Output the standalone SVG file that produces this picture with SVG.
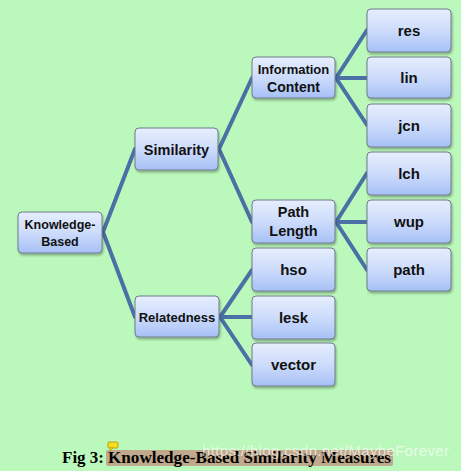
<svg xmlns="http://www.w3.org/2000/svg" width="461" height="471" viewBox="0 0 461 471">
<defs>
<linearGradient id="g" x1="0" y1="0" x2="0" y2="1">
<stop offset="0" stop-color="#e6eefd"/>
<stop offset="0.5" stop-color="#cddcfb"/>
<stop offset="1" stop-color="#a6c0f6"/>
</linearGradient>
<filter id="sh" x="-10%" y="-10%" width="130%" height="140%">
<feDropShadow dx="1" dy="2" stdDeviation="1.2" flood-color="#000" flood-opacity="0.3"/>
</filter>
</defs>
<style>
.n rect{fill:url(#g);stroke:#6f7c8c;stroke-width:1;filter:url(#sh)}
.n text{font-family:"Liberation Sans",Arial,sans-serif;font-weight:bold;fill:#111;text-anchor:middle}
.c line,.c polyline{stroke:#4a70a5;stroke-width:4;fill:none;stroke-linecap:round}
.cap{font-family:"Liberation Serif","Times New Roman",serif;font-weight:bold;font-size:16px;fill:#000}
</style>
<rect width="461" height="471" fill="#bbf8bb"/>
<g class="c">
<polyline points="135,149 103,232 135,317"/>
<polyline points="252,78 219,149 252,222"/>
<polyline points="367,30 336,78 367,125"/>
<line x1="336" y1="78" x2="367" y2="78"/>
<polyline points="367,173 336,222 367,270"/>
<line x1="336" y1="222" x2="367" y2="222"/>
<polyline points="252,270 220,317 252,365"/>
<line x1="220" y1="317" x2="252" y2="317"/>
</g>
<g id="kb" class="n"><rect x="18" y="212" width="84" height="41" rx="4"/><text x="60" y="229" font-size="12.5">Knowledge-</text><text x="60" y="246" font-size="12.5">Based</text></g>
<g id="sim" class="n"><rect x="135" y="128" width="83" height="42" rx="4"/><text x="176.5" y="155" font-size="14.5">Similarity</text></g>
<g id="rel" class="n"><rect x="135" y="296" width="84" height="41" rx="4"/><text x="177" y="322" font-size="13">Relatedness</text></g>
<g id="ic" class="n"><rect x="252" y="57" width="83" height="41" rx="4"/><text x="293.5" y="74" font-size="13">Information</text><text x="293.5" y="92" font-size="14">Content</text></g>
<g id="pl" class="n"><rect x="252" y="200" width="83" height="43" rx="4"/><text x="293.5" y="217" font-size="14.5">Path</text><text x="293.5" y="236" font-size="14.5">Length</text></g>
<g id="res" class="n"><rect x="367" y="9" width="84" height="43" rx="4"/><text x="409" y="36" font-size="15">res</text></g>
<g id="lin" class="n"><rect x="367" y="57" width="84" height="41" rx="4"/><text x="409" y="83" font-size="15">lin</text></g>
<g id="jcn" class="n"><rect x="367" y="104" width="84" height="43" rx="4"/><text x="409" y="131" font-size="15">jcn</text></g>
<g id="lch" class="n"><rect x="367" y="152" width="84" height="43" rx="4"/><text x="409" y="179" font-size="15">lch</text></g>
<g id="wup" class="n"><rect x="367" y="200" width="84" height="43" rx="4"/><text x="409" y="227" font-size="15">wup</text></g>
<g id="path" class="n"><rect x="367" y="248" width="84" height="43" rx="4"/><text x="409" y="275" font-size="15">path</text></g>
<g id="hso" class="n"><rect x="252" y="248" width="83" height="43" rx="4"/><text x="293.5" y="275" font-size="15">hso</text></g>
<g id="lesk" class="n"><rect x="252" y="296" width="83" height="43" rx="4"/><text x="293.5" y="323" font-size="15">lesk</text></g>
<g id="vector" class="n"><rect x="252" y="343" width="83" height="43" rx="4"/><text x="293.5" y="370" font-size="15">vector</text></g>
<rect x="106" y="450" width="287" height="16" rx="2" fill="#c0a98c"/>
<g>
<rect x="108" y="442" width="10" height="6" rx="1" fill="#f5e020" stroke="#b09000" stroke-width="0.8"/>
<path d="M110,448 L110,451 L113,448 Z" fill="#f5e020" stroke="#b09000" stroke-width="0.6"/>
</g>
<text class="cap" x="62" y="463" textLength="42" lengthAdjust="spacingAndGlyphs">Fig 3:</text>
<text class="cap" x="108" y="463" textLength="283" lengthAdjust="spacingAndGlyphs">Knowledge-Based Similarity Measures</text>
<text x="202" y="456" font-family="Liberation Sans,Arial,sans-serif" font-size="15" fill="#ffffff" fill-opacity="0.65" textLength="247">https://blog.csdn.net/MaybeForever</text>
</svg>
